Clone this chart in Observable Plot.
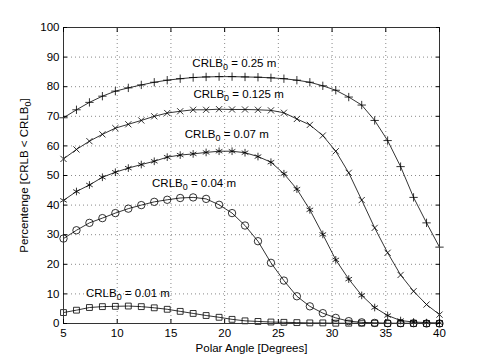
<!DOCTYPE html>
<html><head><meta charset="utf-8">
<script src="https://cdn.jsdelivr.net/npm/d3@7"></script>
<script src="https://cdn.jsdelivr.net/npm/@observablehq/plot@0.6"></script>
<style>
body{margin:0;background:#fff}
#chart svg{font-family:"Liberation Sans",Arial,Helvetica,sans-serif;background:#fff}
</style>
</head><body><div id="chart"></div>
<script>
// Polar angle samples (degrees)
const angles = [5, 6.207, 7.414, 8.621, 9.828, 11.034, 12.241, 13.448, 14.655, 15.862,
  17.069, 18.276, 19.483, 20.690, 21.897, 23.103, 24.310, 25.517, 26.724, 27.931,
  29.138, 30.345, 31.552, 32.759, 33.966, 35.172, 36.379, 37.586, 38.793, 40];

const crlb025 = [69.5, 72.2, 74.7, 76.8, 78.5, 79.6, 80.6, 81.5, 82.2, 82.7,
  83.1, 83.3, 83.4, 83.4, 83.3, 83.2, 83.0, 82.7, 82.2, 81.5,
  80.3, 78.8, 76.5, 73.8, 68.6, 61.8, 53.0, 42.6, 34.0, 25.8];
const crlb0125 = [55.6, 58.8, 61.6, 63.9, 66.0, 67.3, 68.6, 70.0, 71.1, 71.7,
  72.2, 72.2, 72.4, 72.3, 72.3, 72.2, 72.0, 71.2, 69.1, 67.1,
  63.5, 58.2, 50.9, 41.7, 32.3, 23.9, 16.4, 10.9, 6.4, 3.0];
const crlb007 = [41.6, 44.6, 46.8, 49.4, 51.1, 52.5, 53.7, 54.8, 56.2, 56.9,
  57.3, 57.8, 58.2, 58.2, 57.7, 56.4, 54.5, 50.6, 45.4, 38.4,
  30.1, 21.5, 15.0, 9.5, 5.4, 2.7, 1.0, 0.5, 0.3, 0.2];
const crlb004 = [28.7, 31.5, 34.0, 35.6, 37.3, 38.8, 40.0, 41.1, 41.8, 42.4,
  42.6, 42.1, 40.1, 37.3, 33.1, 27.8, 20.5, 14.5, 9.2, 5.8,
  3.5, 1.9, 0.8, 0.4, 0.2, 0.1, 0.1, 0.1, 0.0, 0.0];
const crlb001 = [3.7, 4.5, 5.4, 5.7, 5.8, 5.9, 5.7, 5.3, 4.8, 4.1,
  3.4, 2.7, 2.1, 1.4, 0.9, 0.7, 0.5, 0.4, 0.3, 0.2,
  0.2, 0.1, 0.1, 0.1, 0.1, 0.0, 0.0, 0.0, 0.0, 0.0];

const seriesNames = ["0.25", "0.125", "0.07", "0.04", "0.01"];
const seriesValues = [crlb025, crlb0125, crlb007, crlb004, crlb001];
const seriesSymbols = ["plus", "times", "asterisk", "circle", "square"];

// annotation texts and their anchor (data coords)
const labelTexts = ["CRLB_0 = 0.25 m", "CRLB_0 = 0.125 m", "CRLB_0 = 0.07 m", "CRLB_0 = 0.04 m", "CRLB_0 = 0.01 m"];
const labelX = [20.9, 21.3, 20.2, 17.15, 11.0];
const labelY = [87.8, 77.4, 63.9, 47.3, 10.2];

const xTicks = [5, 10, 15, 20, 25, 30, 35, 40];
const yTicks = [0, 10, 20, 30, 40, 50, 60, 70, 80, 90, 100];

const rows = [];
seriesNames.forEach((s, k) => angles.forEach((a, i) => rows.push({series: s, angle: a, pct: seriesValues[k][i]})));
const labels = labelTexts.map((t, i) => ({t, x: labelX[i], y: labelY[i]}));

const symR = {plus: 2.8, times: 2.9, asterisk: 3.6, circle: 3.7, square: 3.3};

const plot = Plot.plot({
  width: 485, height: 364,
  marginLeft: 63, marginRight: 46, marginTop: 27, marginBottom: 41,
  style: {fontSize: "11.5px", fontFamily: "Liberation Sans, Arial, sans-serif", color: "#000", background: "#fff"},
  x: {domain: [5, 40]},
  y: {domain: [0, 100]},
  marks: [
    Plot.gridX(xTicks.slice(1, -1), {stroke: "#444", strokeOpacity: 0.9, strokeWidth: 0.7, strokeDasharray: "1,3"}),
    Plot.gridY(yTicks.slice(1, -1), {stroke: "#444", strokeOpacity: 0.9, strokeWidth: 0.7, strokeDasharray: "1,3"}),
    Plot.line(rows, {x: "angle", y: "pct", z: "series", stroke: "#000", strokeWidth: 0.8}),
    ...seriesNames.map((s, k) => Plot.dot(rows.filter(d => d.series === s), {
      x: "angle", y: "pct", symbol: () => seriesSymbols[k], r: symR[seriesSymbols[k]],
      stroke: "#000", fill: "none", strokeWidth: 0.8
    })),
    Plot.frame({stroke: "#333", strokeWidth: 1}),
    Plot.axisX(xTicks, {anchor: "bottom", tickSize: 0, tickPadding: 5, label: "Polar Angle [Degrees]", labelAnchor: "center", labelOffset: 28, labelArrow: "none"}),
    Plot.axisX(xTicks, {anchor: "bottom", tickSize: -4, tickFormat: () => "", label: null}),
    Plot.axisX(xTicks, {anchor: "top", tickSize: -4, tickFormat: () => "", label: null}),
    Plot.axisY(yTicks, {anchor: "left", tickSize: 0, tickPadding: 4, label: "Percentenge [CRLB < CRLB_0]", labelAnchor: "center", labelOffset: 44, labelArrow: "none"}),
    Plot.axisY(yTicks, {anchor: "left", tickSize: -4, tickFormat: () => "", label: null}),
    Plot.axisY(yTicks, {anchor: "right", tickSize: -4, tickFormat: () => "", label: null}),
    Plot.text(labels, {x: "x", y: "y", text: "t", textAnchor: "middle", fontSize: 11.5, fill: "#000"})
  ]
});

// render "_0" as subscript
d3.select(plot).selectAll("text").each(function () {
  const t = this.textContent;
  if (!t.includes("_0")) return;
  const [a, b] = t.split("_0");
  const sel = d3.select(this);
  sel.text(null);
  sel.append("tspan").text(a);
  sel.append("tspan").attr("dy", 3).attr("font-size", "9px").text("0");
  sel.append("tspan").attr("dy", -3).text(b);
});
d3.select(plot).selectAll("text").attr("fill", "#000");
document.getElementById("chart").appendChild(plot);
</script>
</body></html>
